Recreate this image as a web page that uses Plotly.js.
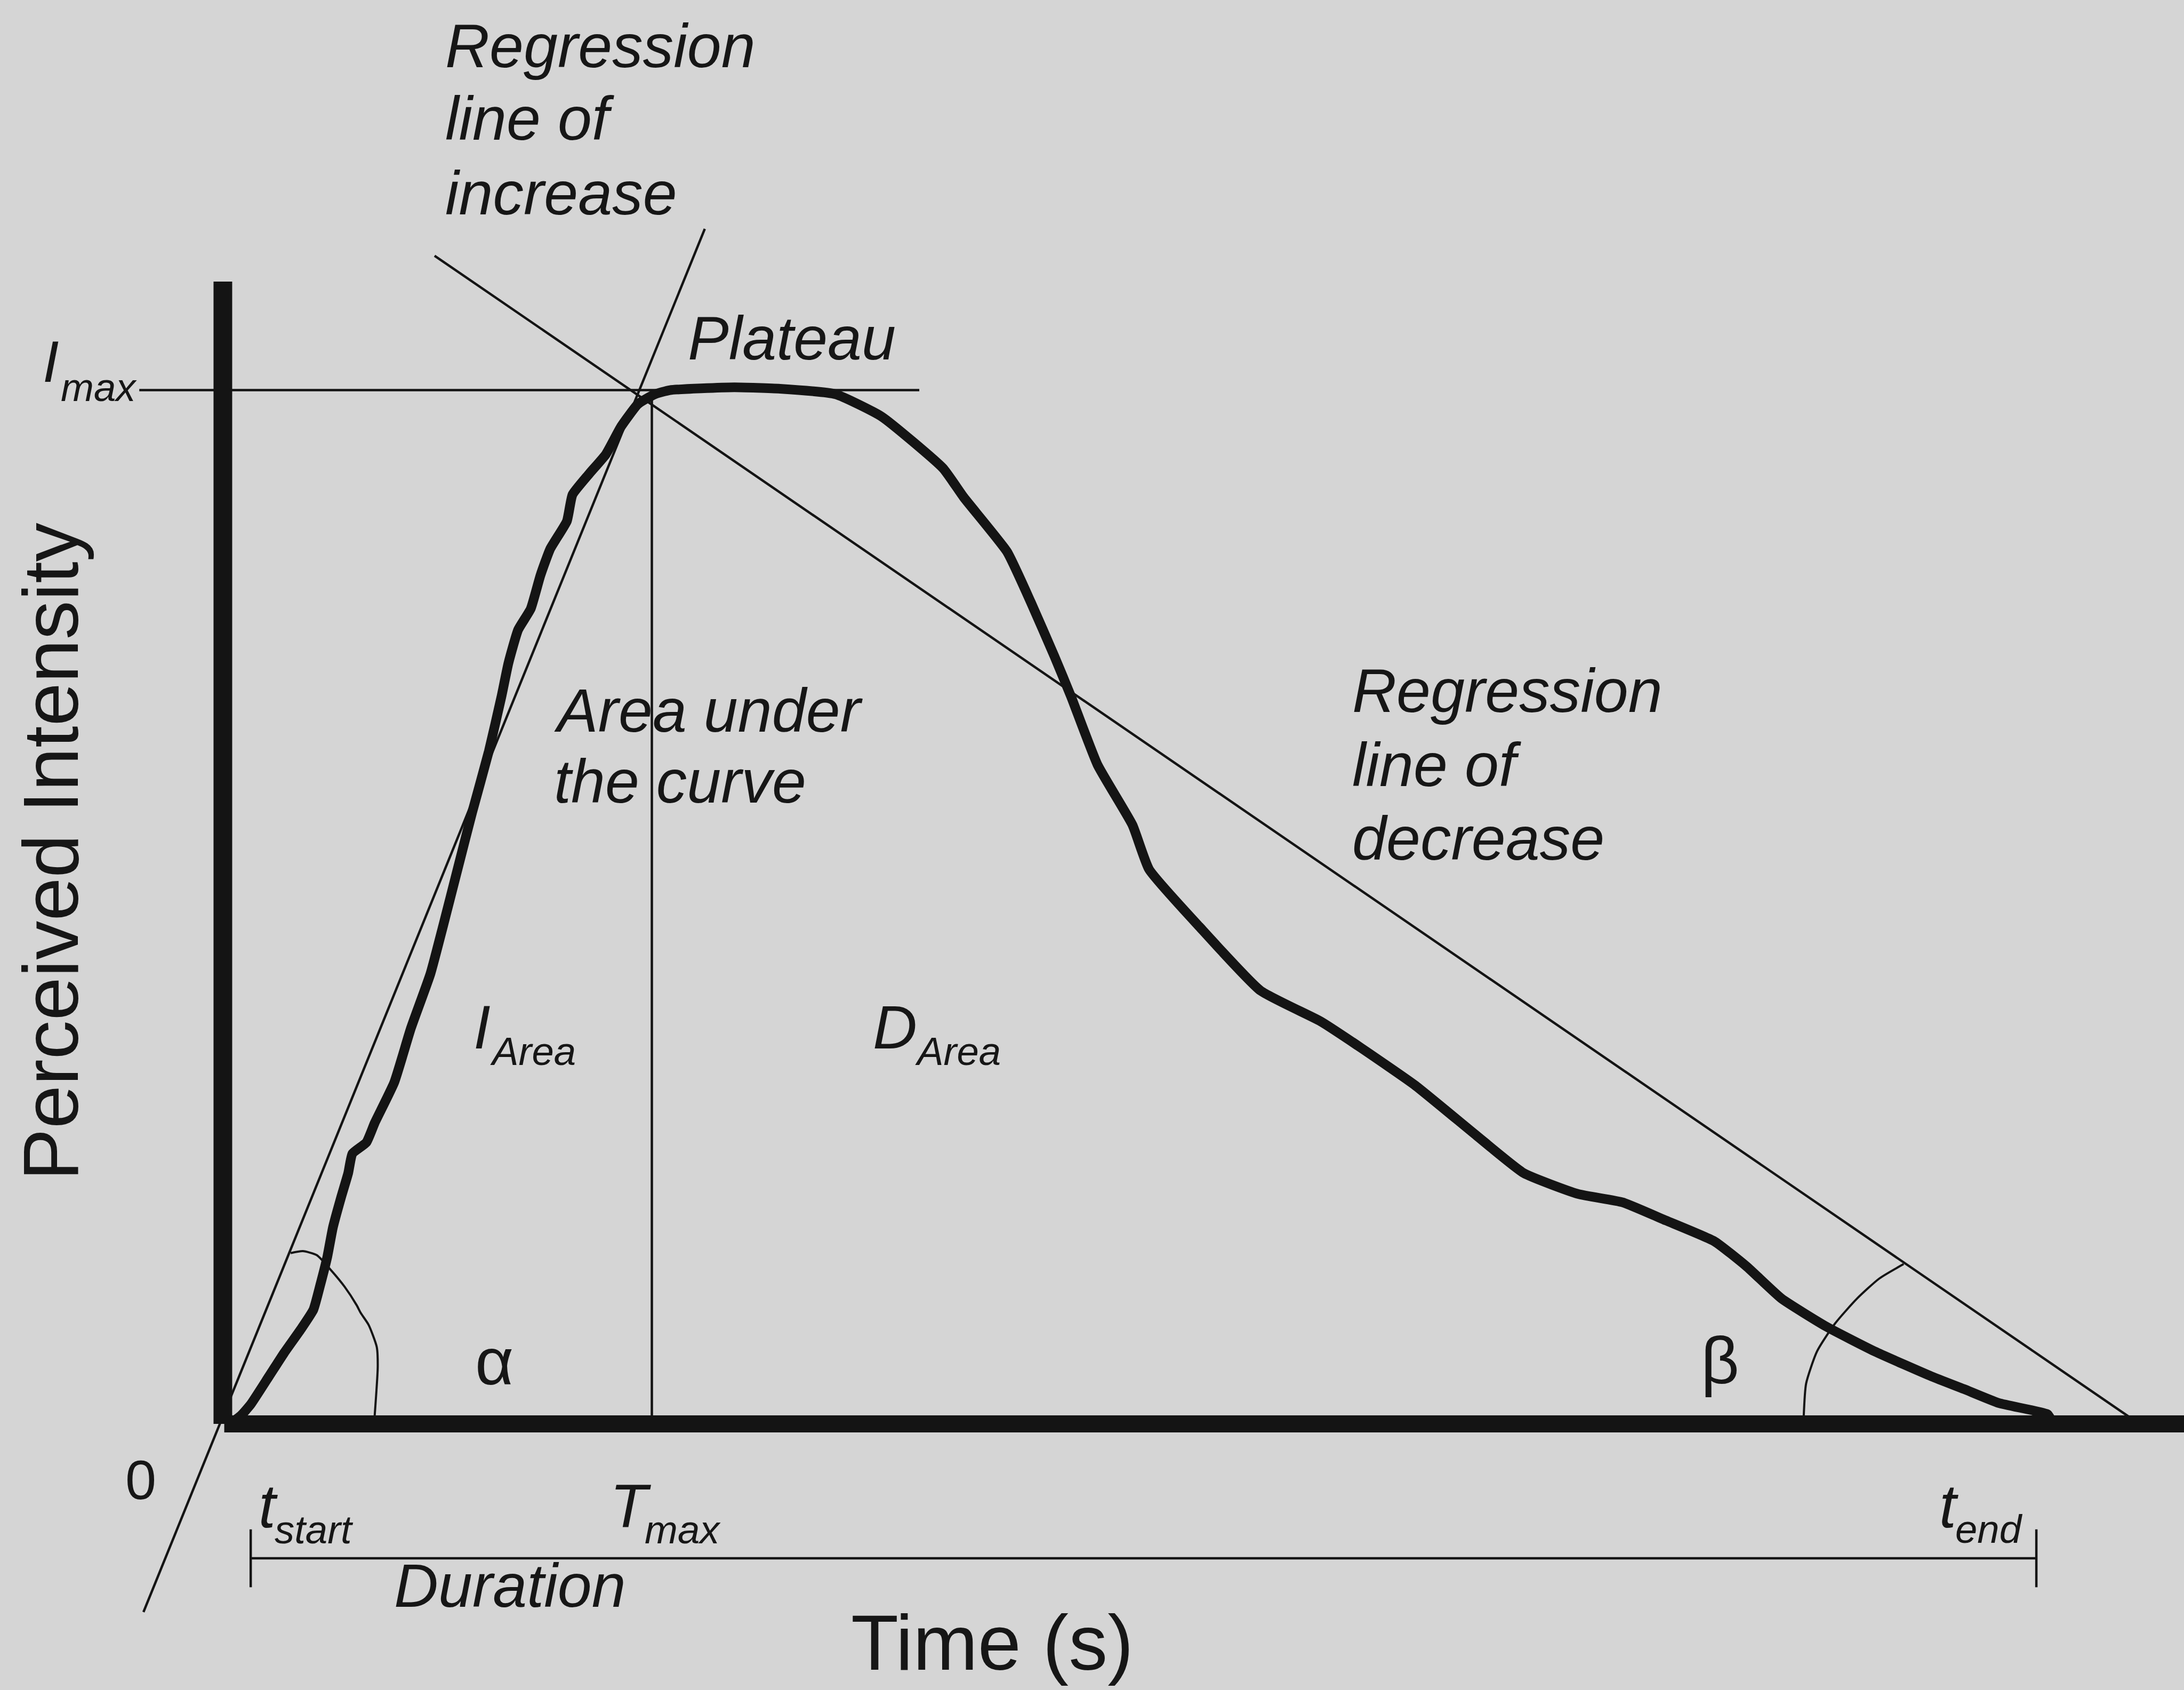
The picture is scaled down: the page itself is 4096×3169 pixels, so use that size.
<!DOCTYPE html>
<html>
<head>
<meta charset="utf-8">
<script src="https://cdn.plot.ly/plotly-3.0.1.min.js"></script>
<style>
  html, body { margin: 0; padding: 0; background: #d5d5d5; }
  #chart { width: 4096px; height: 3169px; }
</style>
</head>
<body>
<div id="chart"></div>
<script>
// ---------- data (time in s, perceived intensity in % of Imax) ----------
const curveTime = [0.25, 0.65, 1.0, 1.65, 2.2, 2.8, 3.25, 3.5, 3.75, 3.95, 4.25, 4.5, 4.65, 5.15, 5.45,
  6.15, 6.75, 7.45, 7.9, 8.45, 8.95, 9.55, 10.0, 10.25, 10.6, 11.05, 11.4, 11.75, 12.35, 12.55,
  13.15, 13.75, 14.3, 14.9, 15.5, 16.05, 18.35, 20.0, 22.0, 23.65, 25.85, 26.6, 28.15, 29.0,
  29.85, 30.45, 31.4, 32.65, 33.25, 35.05, 37.25, 39.4, 40.85, 42.8, 45.0, 46.7, 48.65, 50.25,
  51.8, 53.55, 54.7, 55.95, 57.55, 59.3, 61.35, 62.5, 63.75, 65.5, 65.6];
const curveIntensity = [0, 0.81, 1.89, 4.58, 6.87, 9.16, 11.05, 13.48, 16.17, 19.0, 21.97, 24.26, 26.15, 27.22, 29.11,
  33.02, 38.27, 43.53, 48.11, 53.91, 59.16, 65.09, 70.35, 73.58, 76.82, 78.84, 82.08, 84.64, 87.33, 89.89,
  91.91, 93.8, 96.5, 98.65, 99.6, 100.0, 100.27, 100.13, 99.6, 97.44, 92.45, 89.62, 84.37, 79.51,
  74.26, 70.35, 63.75, 57.95, 53.64, 48.11, 41.91, 38.95, 36.39, 32.75, 27.9, 24.26, 22.24, 21.43,
  19.68, 17.65, 15.23, 12.13, 9.43, 7.01, 4.58, 3.37, 2.02, 0.94, 0.54];

const Imax = 100;
const Tmax = 15.4;
const tStart = 1.0;
const tEnd = 65.1;

const imaxLineTime = [-3.0, 25.0];          // horizontal Imax / plateau line
const tmaxLineIntensity = [0, 99.5];         // vertical line at Tmax

const incLineTime = [-2.85, 17.3];           // regression line of increase
const incLineIntensity = [-18.2, 115.6];
const decLineTime = [7.6, 68.8];             // regression line of decrease
const decLineIntensity = [113.0, 0];

const alphaArcTime = [2.435, 2.87, 3.37, 3.875, 4.375, 4.8, 4.95, 5.235, 5.525, 5.56, 5.45];
const alphaArcIntensity = [16.52, 16.71, 16.33, 14.89, 13.25, 11.5, 10.73, 9.57, 7.44, 5.53, 0.8];
const betaArcTime = [56.75, 56.835, 57.23, 57.87, 58.665, 59.46, 60.335];
const betaArcIntensity = [0.8, 3.91, 7.04, 9.7, 12.13, 14.06, 15.46];

const durationLevel = -13.0;
const durationTick = [-10.2, -15.8];

const yAxisTop = 110.5;
const xRange = [-8, 70.4];
const yRange = [-25.74, 137.74];

// ---------- styles ----------
const INK = '#141414';
const FONT = 'Liberation Sans, Arial, Helvetica, sans-serif';
const thin = 4.5;

function line(x, y, width, smooth) {
  const ln = { color: INK, width: width, shape: smooth ? 'spline' : 'linear' };
  if (smooth) ln.smoothing = smooth;
  return { x: x, y: y, type: 'scatter', mode: 'lines', hoverinfo: 'skip', showlegend: false, line: ln };
}

const traces = [
  line(imaxLineTime, [Imax, Imax], thin),
  line([Tmax, Tmax], tmaxLineIntensity, thin),
  line(incLineTime, incLineIntensity, thin),
  line(decLineTime, decLineIntensity, thin),
  line(alphaArcTime, alphaArcIntensity, 4, 0.6),
  line(betaArcTime, betaArcIntensity, 4, 0.6),
  line([tStart, tEnd], [durationLevel, durationLevel], thin),
  line([tStart, tStart], durationTick, thin),
  line([tEnd, tEnd], durationTick, thin),
  line(curveTime, curveIntensity, 18, 0.45),
  line([0.05, xRange[1] + 1], [0, 0], 32),
  line([0, 0], [0, yAxisTop], 35)
];

function label(text, x, y, size, opts) {
  opts = opts || {};
  return {
    text: text, x: x, y: y, xref: 'x', yref: 'y', showarrow: false,
    xanchor: opts.xanchor || 'left', yanchor: 'middle',
    textangle: opts.angle || 0,
    font: { family: FONT, size: size, color: '#161616', style: opts.upright ? 'normal' : 'italic' }
  };
}

const MAIN = 115, SUB = 74.4, BIG = 146;
const annotations = [
  label('Regression', 7.95, 133.32, MAIN),
  label('line of', 7.95, 126.31, MAIN),
  label('increase', 7.95, 119.04, MAIN),
  label('Plateau', 16.65, 105.02, MAIN),
  label('I', -6.5, 102.77, 110),
  label('max', -5.85, 100.28, SUB),
  label('Area under', 11.85, 69.04, MAIN),
  label('the curve', 11.85, 62.16, MAIN),
  label('Regression', 40.5, 70.92, MAIN),
  label('line of', 40.5, 63.78, MAIN),
  label('decrease', 40.5, 56.64, MAIN),
  label('I', 8.95, 38.38, MAIN),
  label('Area', 9.55, 36.02, SUB),
  label('D', 23.3, 38.39, MAIN),
  label('Area', 24.8, 36.04, SUB),
  label('α', 9.75, 6.05, 125, { xanchor: 'center', upright: true }),
  label('β', 53.75, 6.15, 125, { xanchor: 'center', upright: true }),
  label('0', -2.95, -5.41, 104.5, { xanchor: 'center', upright: true }),
  label('t', 1.25, -7.92, MAIN),
  label('start', 1.825, -10.26, SUB),
  label('T', 13.85, -7.92, MAIN),
  label('max', 15.1, -10.26, SUB),
  label('t', 61.575, -7.92, MAIN),
  label('end', 62.15, -10.19, SUB),
  label('Duration', 6.1, -15.65, MAIN),
  label('Time (s)', 27.625, -21.2, BIG, { xanchor: 'center', upright: true }),
  label('Perceived Intensity', -6.175, 55.39, BIG, { xanchor: 'center', upright: true, angle: -90 })
];

const layout = {
  width: 4096, height: 3169,
  margin: { l: 0, r: 0, t: 0, b: 0, pad: 0 },
  paper_bgcolor: '#d5d5d5', plot_bgcolor: '#d5d5d5',
  showlegend: false,
  xaxis: { range: xRange, visible: false, fixedrange: true },
  yaxis: { range: yRange, visible: false, fixedrange: true },
  annotations: annotations
};

Plotly.newPlot('chart', traces, layout, { staticPlot: true, displayModeBar: false });
</script>
</body>
</html>
